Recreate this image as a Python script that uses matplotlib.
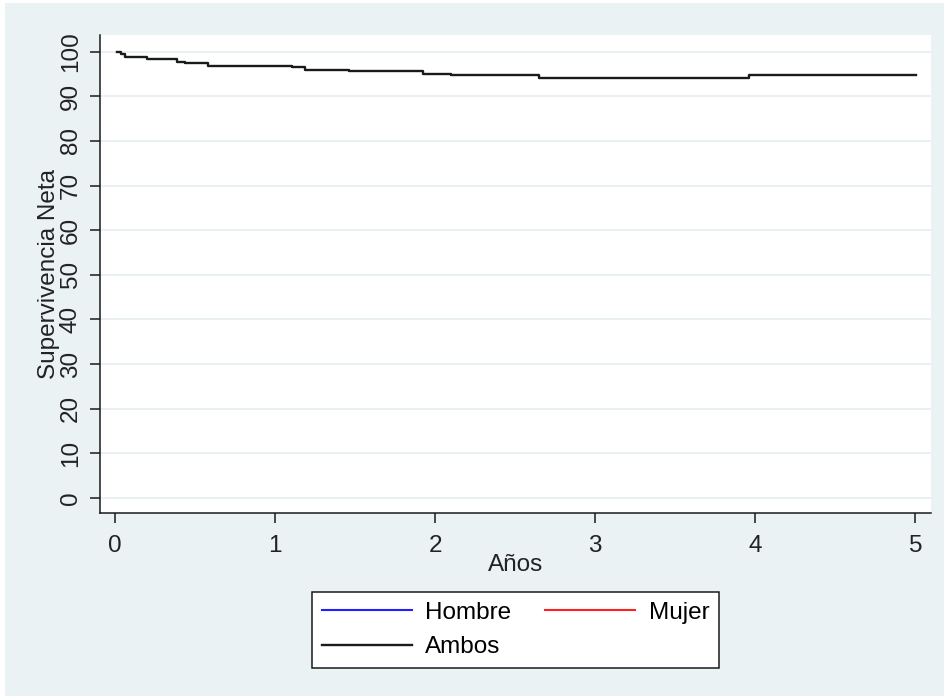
import matplotlib.pyplot as plt
from matplotlib.patches import Rectangle

##### Data #####
# net survival (%) by years since diagnosis, step changes only
anos_ambos = [0.01, 0.035, 0.063, 0.198, 0.386, 0.438, 0.584, 1.105, 1.189,
              1.460, 1.925, 2.096, 2.650, 3.963, 5.006]
sup_ambos = [100.0, 99.4, 98.8, 98.3, 97.8, 97.4, 96.9, 96.5, 96.0,
             95.6, 95.1, 94.7, 94.2, 94.7, 94.7]
anos_hombre = []
sup_hombre = []
anos_mujer = []
sup_mujer = []

x_ticks = [0, 1, 2, 3, 4, 5]
y_ticks = [0, 10, 20, 30, 40, 50, 60, 70, 80, 90, 100]
################

BG = "#eaf2f3"
GRID = "#e6eff1"
INK = "#1a1a1a"


def main() -> None:
    plt.rcParams['font.family'] = ['Liberation Sans', 'DejaVu Sans']
    plt.rcParams['font.size'] = 17.5

    fig = plt.figure(figsize=(9.44, 6.96), dpi=100, facecolor="white")
    # graph region
    fig.patches.append(Rectangle((5 / 944, 0), 1 - 5 / 944, 1 - 3 / 696,
                                 transform=fig.transFigure, facecolor=BG,
                                 edgecolor="none", zorder=-10))

    ax = fig.add_axes([100 / 944, 1 - 513 / 696, 831 / 944, 478 / 696])
    ax.set_facecolor("white")

    h1, = ax.plot(anos_hombre, sup_hombre, color="#1f1fff", lw=1.5, label="Hombre")
    h2, = ax.plot(anos_mujer, sup_mujer, color="#ff2020", lw=1.5, label="Mujer")
    h3, = ax.plot(anos_ambos, sup_ambos, color=INK, lw=1.7, drawstyle="steps-post",
                  label="Ambos")

    ax.set_xlim(-0.0937, 5.097)
    ax.set_ylim(-3.36, 103.74)
    ax.set_xticks(x_ticks)
    ax.set_yticks(y_ticks)

    ax.grid(True, axis="y", color=GRID, lw=1.3)
    ax.set_axisbelow(True)

    for side in ["top", "right"]:
        ax.spines[side].set_visible(False)
    for side in ["left", "bottom"]:
        ax.spines[side].set_color(INK)
        ax.spines[side].set_linewidth(1.1)

    ax.tick_params(axis="both", direction="out", length=7.2, width=1.1,
                   color=INK, labelcolor="#222222")
    ax.tick_params(axis="x", pad=8.5)
    ax.tick_params(axis="y", pad=6, labelrotation=90)
    for lab in ax.get_yticklabels():
        lab.set_verticalalignment("center")

    ax.set_xlabel("Años", labelpad=-2, color="#222222")
    ax.set_ylabel("Supervivencia Neta", labelpad=0, color="#222222")

    # legend fills column by column: Hombre/Ambos left, Mujer right
    leg = fig.legend([h1, h3, h2], ["Hombre", "Ambos", "Mujer"],
                     loc="center", bbox_to_anchor=(515.5 / 944, 1 - 630 / 696),
                     ncol=2, frameon=True, fancybox=False, framealpha=1,
                     handlelength=3.7, handletextpad=0.55, columnspacing=1.4,
                     labelspacing=0.5, borderpad=0.4, borderaxespad=0)
    leg.get_frame().set_edgecolor(INK)
    leg.get_frame().set_linewidth(1.1)
    leg.get_frame().set_facecolor("white")

    fig.savefig("out.png", dpi=100, facecolor=fig.get_facecolor())


if __name__ == "__main__":
    main()
